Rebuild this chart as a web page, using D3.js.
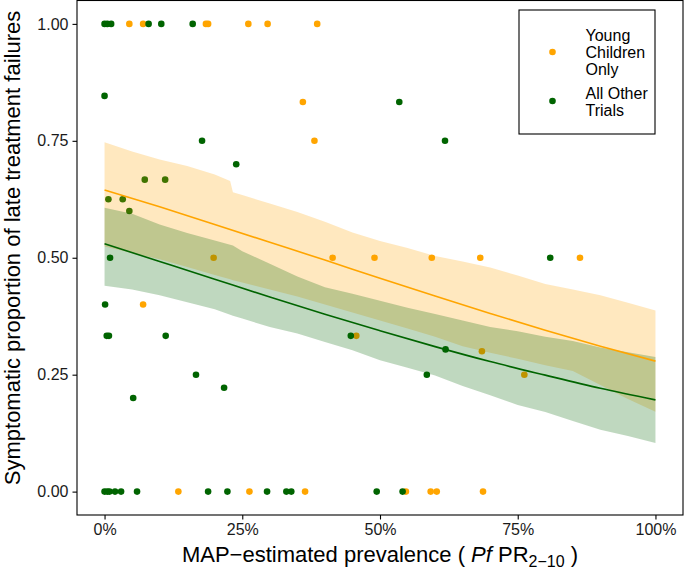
<!DOCTYPE html>
<html>
<head>
<meta charset="utf-8">
<script src="https://cdn.jsdelivr.net/npm/d3@7"></script>
<style>
  html, body { margin: 0; padding: 0; background: #fff; }
  svg { display: block; }
  text { font-family: "Liberation Sans", Arial, sans-serif; }
</style>
</head>
<body>
<svg id="chart" width="685" height="574"></svg>
<script>
// ---------- data ----------
const seriesNames = ["Young Children Only", "All Other Trials"];
const seriesColors = ["#FFA500", "#006400"];

// observed trials: prevalence (0-1) and proportion
const youngX = [0.045, 0.070, 0.184, 0.188, 0.261, 0.296, 0.386,
                0.360, 0.381, 0.198, 0.414, 0.490, 0.594, 0.682, 0.863,
                0.070, 0.457, 0.685, 0.762,
                0.134, 0.263, 0.364, 0.547, 0.592, 0.603, 0.687];
const youngY = [1, 1, 1, 1, 1, 1, 1,
                0.833, 0.75, 0.5, 0.5, 0.5, 0.5, 0.5, 0.5,
                0.4, 0.333, 0.3, 0.25,
                0, 0, 0, 0, 0, 0, 0];
const otherX = [0.000, 0.005, 0.012, 0.080, 0.103, 0.160,
                0.000, 0.535, 0.177, 0.618, 0.239, 0.073, 0.110,
                0.007, 0.033, 0.045, 0.010, 0.809,
                0.001, 0.004, 0.008, 0.111, 0.447, 0.619,
                0.166, 0.585, 0.217, 0.052,
                0.000, 0.005, 0.009, 0.019, 0.030, 0.059, 0.188, 0.223,
                0.295, 0.330, 0.339, 0.494, 0.541];
const otherY = [1, 1, 1, 1, 1, 1,
                0.846, 0.833, 0.75, 0.75, 0.70, 0.667, 0.667,
                0.625, 0.625, 0.60, 0.5, 0.5,
                0.4, 0.333, 0.333, 0.333, 0.333, 0.304,
                0.25, 0.25, 0.222, 0.2,
                0, 0, 0, 0, 0, 0, 0, 0,
                0, 0, 0, 0, 0];

// fitted curves
const fitX = [0, 0.1, 0.2, 0.3, 0.4, 0.5, 0.6, 0.7, 0.8, 0.9, 1.0];
const youngFit = [0.645, 0.609, 0.571, 0.533, 0.495, 0.456, 0.418, 0.381, 0.345, 0.311, 0.279];
const otherFit = [0.530, 0.492, 0.454, 0.416, 0.379, 0.344, 0.310, 0.278, 0.249, 0.221, 0.196];

// uncertainty bands
const bandX = [0, 0.05, 0.10, 0.15, 0.20, 0.228, 0.233, 0.25, 0.30, 0.35, 0.40, 0.45, 0.50,
               0.55, 0.60, 0.65, 0.70, 0.75, 0.80, 0.85, 0.90, 0.95, 1.00];
const youngUpper = [0.747, 0.727, 0.710, 0.696, 0.678, 0.664, 0.640, 0.634, 0.616, 0.598, 0.577, 0.554, 0.536,
                    0.521, 0.504, 0.492, 0.479, 0.462, 0.444, 0.432, 0.420, 0.404, 0.387];
const youngLower = [0.524, 0.510, 0.497, 0.480, 0.463, 0.454, 0.452, 0.447, 0.432, 0.417, 0.400, 0.383, 0.366,
                    0.349, 0.331, 0.311, 0.297, 0.284, 0.270, 0.258, 0.228, 0.198, 0.171];
const otherUpper = [0.607, 0.594, 0.571, 0.553, 0.537, 0.528, 0.526, 0.514, 0.487, 0.460, 0.437, 0.423, 0.408,
                    0.393, 0.380, 0.366, 0.352, 0.343, 0.331, 0.322, 0.308, 0.298, 0.288];
const otherLower = [0.440, 0.432, 0.420, 0.405, 0.390, 0.378, 0.376, 0.370, 0.352, 0.338, 0.320, 0.302, 0.281,
                    0.265, 0.248, 0.226, 0.206, 0.185, 0.170, 0.151, 0.132, 0.119, 0.104];

const xTicks = [0, 0.25, 0.5, 0.75, 1];
const xTickLabels = ["0%", "25%", "50%", "75%", "100%"];
const yTicks = [0, 0.25, 0.5, 0.75, 1];
const yTickLabels = ["0.00", "0.25", "0.50", "0.75", "1.00"];

// ---------- layout ----------
const svg = d3.select("#chart");
const panel = { left: 77, right: 683, top: 0.5, bottom: 515 };
const x = d3.scaleLinear().domain([-0.05, 1.05]).range([panel.left, panel.right]);
const y = d3.scaleLinear().domain([-0.05, 1.05]).range([panel.bottom, panel.top]);

const g = svg.append("g");

// points (drawn beneath the bands)
const pts = [
  { xs: youngX, ys: youngY, color: seriesColors[0] },
  { xs: otherX, ys: otherY, color: seriesColors[1] }
];
pts.forEach(s => {
  g.append("g").selectAll("circle")
    .data(s.xs.map((v, i) => [v, s.ys[i]]))
    .join("circle")
    .attr("cx", d => x(d[0]))
    .attr("cy", d => y(d[1]))
    .attr("r", 3.3)
    .attr("fill", s.color);
});

// bands
const area = d3.area()
  .x(d => x(d.x))
  .y0(d => y(d.lo))
  .y1(d => y(d.hi))
  .curve(d3.curveLinear);
const bands = [
  { lo: youngLower, hi: youngUpper, color: seriesColors[0] },
  { lo: otherLower, hi: otherUpper, color: seriesColors[1] }
];
bands.forEach(b => {
  g.append("path")
    .datum(bandX.map((v, i) => ({ x: v, lo: b.lo[i], hi: b.hi[i] })))
    .attr("d", area)
    .attr("fill", b.color)
    .attr("fill-opacity", 0.25);
});

// fitted lines
const line = d3.line().x(d => x(d[0])).y(d => y(d[1])).curve(d3.curveMonotoneX);
[[youngFit, seriesColors[0]], [otherFit, seriesColors[1]]].forEach(([vals, col]) => {
  g.append("path")
    .datum(fitX.map((v, i) => [v, vals[i]]))
    .attr("d", line)
    .attr("fill", "none")
    .attr("stroke", col)
    .attr("stroke-width", 1.6);
});

// panel border
svg.append("rect")
  .attr("x", panel.left).attr("y", panel.top)
  .attr("width", panel.right - panel.left)
  .attr("height", panel.bottom - panel.top)
  .attr("fill", "none").attr("stroke", "#000").attr("stroke-width", 1.1);

// axes
const xAxis = d3.axisBottom(x).tickValues(xTicks)
  .tickFormat((d, i) => xTickLabels[i]).tickSize(4.5).tickPadding(4);
const gx = svg.append("g").attr("transform", `translate(0,${panel.bottom})`).call(xAxis);
gx.select(".domain").remove();
gx.selectAll("line").attr("stroke", "#000").attr("stroke-width", 1.1);
gx.selectAll("text").attr("font-size", 16).attr("fill", "#1a1a1a")
  .attr("font-family", "Liberation Sans, Arial, sans-serif");

const yAxis = d3.axisLeft(y).tickValues(yTicks)
  .tickFormat((d, i) => yTickLabels[i]).tickSize(4.5).tickPadding(4);
const gy = svg.append("g").attr("transform", `translate(${panel.left},0)`).call(yAxis);
gy.select(".domain").remove();
gy.selectAll("line").attr("stroke", "#000").attr("stroke-width", 1.1);
gy.selectAll("text").attr("font-size", 16).attr("fill", "#1a1a1a")
  .attr("font-family", "Liberation Sans, Arial, sans-serif");

// axis titles
const xt = svg.append("text")
  .attr("x", (panel.left + panel.right) / 2)
  .attr("y", 562)
  .attr("text-anchor", "middle")
  .attr("font-size", 22)
  .attr("fill", "#000");
xt.append("tspan").text("MAP\u2212estimated prevalence ( ");
xt.append("tspan").attr("font-style", "italic").text("Pf");
xt.append("tspan").text(" PR");
xt.append("tspan").attr("font-size", 16).attr("dy", 5).text("2\u221210");
xt.append("tspan").attr("dy", -5).text(" )");

svg.append("text")
  .attr("transform", `translate(20,248) rotate(-90)`)
  .attr("text-anchor", "middle")
  .attr("font-size", 22)
  .attr("fill", "#000")
  .text("Symptomatic proportion of late treatment failures");

// legend
const lg = svg.append("g");
lg.append("rect").attr("x", 519).attr("y", 10).attr("width", 136).attr("height", 124)
  .attr("fill", "#fff").attr("stroke", "#000").attr("stroke-width", 1.1);
const legendLines = [["Young", "Children", "Only"], ["All Other", "Trials"]];
const legendTop = [35, 93];
const legendDotY = [52, 101];
legendLines.forEach((lines, i) => {
  lg.append("circle").attr("cx", 552.5).attr("cy", legendDotY[i]).attr("r", 3.3)
    .attr("fill", seriesColors[i]);
  lines.forEach((t, j) => {
    lg.append("text").attr("x", 585.5).attr("y", legendTop[i] + j * 17)
      .attr("dy", "0.35em").attr("font-size", 16).attr("fill", "#000").text(t);
  });
});
</script>
</body>
</html>
